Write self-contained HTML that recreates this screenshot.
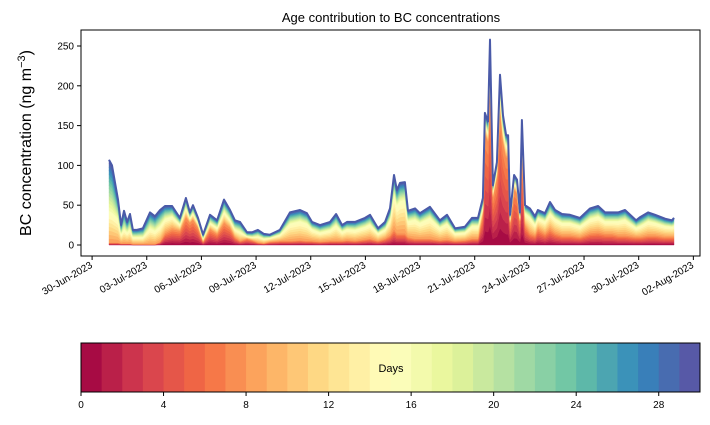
<!DOCTYPE html>
<html><head><meta charset="utf-8"><style>
body{margin:0;background:#fff}
svg{display:block;font-family:"Liberation Sans",sans-serif}
</style></head><body>
<svg id="chart" width="710" height="425" viewBox="0 0 710 425">
<text x="391" y="22" text-anchor="middle" font-size="13">Age contribution to BC concentrations</text>
<text transform="translate(31,143) rotate(-90)" text-anchor="middle" font-size="16">BC concentration (ng m<tspan dy="-6" font-size="11">−3</tspan><tspan dy="6">)</tspan></text>
<g id="layers"></g>
<g id="axes"></g>
<g id="cbar"></g>
</svg>
<script>
// days since 30-Jun-2023 00:00
const days=[0.93,1.09,1.42,1.59,1.75,1.92,2.08,2.24,2.46,2.79,3.18,3.45,3.73,4.0,4.39,4.82,5.15,5.37,5.54,5.81,6.09,6.47,6.86,7.24,7.57,7.84,8.12,8.5,8.78,9.1,9.43,9.76,10.31,10.86,11.41,11.79,12.07,12.51,13.06,13.39,13.72,13.99,14.43,14.98,15.25,15.69,16.08,16.35,16.57,16.73,16.9,17.17,17.34,17.72,17.99,18.54,19.09,19.48,19.92,20.46,20.85,21.18,21.45,21.56,21.73,21.84,22.0,22.22,22.39,22.55,22.72,22.83,22.94,23.16,23.32,23.48,23.59,23.76,24.03,24.31,24.47,24.86,25.13,25.41,25.79,26.23,26.78,27.33,27.77,28.15,28.54,28.87,29.25,29.86,30.08,30.52,30.9,31.45,31.83,31.94];
const total=[107,100,57,25,43,29,39,19,19,21,41,36,44,49,49,34,59,41,50,34,13,38,31,57,44,31,29,16,16,19,14,13,19,41,44,40,29,25,29,39,25,29,29,34,38,21,29,46,88,69,78,79,43,46,40,48,31,38,21,23,34,34,59,166,155,258,75,104,214,163,138,138,38,88,82,41,157,50,46,36,44,40,54,44,39,38,34,46,49,41,41,41,44,31,35,41,38,33,31,34];
const young=[3,3,3,2,2,2,2,1,1,1,1,1,4,15,20,18,35,28,32,22,4,20,14,28,22,10,5,8,6,3,2,4,5,5,6,5,5,4,5,5,5,6,5,7,8,5,8,12,20,15,15,15,10,8,8,8,6,7,5,6,8,8,40,140,130,200,60,85,170,130,110,110,28,70,65,30,120,25,15,12,20,14,20,15,12,12,10,15,16,14,14,12,12,10,10,12,12,10,10,10];
const mid=[40,38,30,12,18,14,18,9,9,9,20,17,20,18,16,8,12,6,8,6,4,8,8,14,10,10,12,3,4,8,6,5,8,22,24,22,15,12,14,20,12,14,14,16,18,10,12,20,45,35,40,42,20,24,20,26,16,20,10,10,16,16,8,12,12,25,8,10,20,15,15,15,5,8,8,5,20,15,20,14,14,16,20,18,16,16,14,18,20,16,16,18,20,12,14,18,16,14,13,14];
const yTicks=[0,50,100,150,200,250];
const xTickLabels=["30-Jun-2023","03-Jul-2023","06-Jul-2023","09-Jul-2023","12-Jul-2023","15-Jul-2023","18-Jul-2023","21-Jul-2023","24-Jul-2023","27-Jul-2023","30-Jul-2023","02-Aug-2023"];
const xTickDays=[0,3,6,9,12,15,18,21,24,27,30,33];
const cbTicks=[0,4,8,12,16,20,24,28];
const nBins=30;

const NS="http://www.w3.org/2000/svg";
const PX0=81,PX1=700,PY0=30,PY1=256;
const xs=d=>92.1+d*18.22;
const ys=v=>245-v*0.796;
function mk(tag,attrs,parent){const e=document.createElementNS(NS,tag);for(const k in attrs)e.setAttribute(k,attrs[k]);parent.appendChild(e);return e;}
const stops=[[158,1,66],[213,62,79],[244,109,67],[253,174,97],[254,224,139],[255,255,191],[230,245,152],[171,221,164],[102,194,165],[50,136,189],[94,79,162]];
function spectral(t){const p=t*10,i=Math.min(9,Math.floor(p)),f=p-i;const a=stops[i],b=stops[i+1];return`rgb(${a.map((c,j)=>Math.round(c+(b[j]-c)*f)).join(",")})`;}

const L=document.getElementById('layers');
const n=days.length;
let base=new Array(n).fill(0);
for(let k=0;k<nBins;k++){
  const top=base.map((b,i)=>{
    let th;
    if(k<8) th=young[i]/8;
    else if(k<16) th=mid[i]/8;
    else th=Math.max(0,total[i]-young[i]-mid[i])/14;
    return b+th;
  });
  let d="M"+days.map((dd,i)=>xs(dd).toFixed(1)+","+ys(top[i]).toFixed(1)).join("L");
  for(let i=n-1;i>=0;i--) d+="L"+xs(days[i]).toFixed(1)+","+ys(base[i]).toFixed(1);
  d+="Z";
  const p=mk('path',{d:d,fill:spectral((k+0.5)/nBins),stroke:spectral((k+0.5)/nBins),'stroke-width':0.4},L);
  
  
  base=top;
}
const tl=mk('path',{d:"M"+days.map((dd,i)=>xs(dd).toFixed(1)+","+ys(total[i]).toFixed(1)).join("L"),fill:"none",stroke:"#4a5aa8","stroke-width":2,"stroke-linejoin":"round"},L);



const A=document.getElementById('axes');
const fr=mk('rect',{x:PX0,y:PY0,width:PX1-PX0,height:PY1-PY0,fill:"none",stroke:"#000","stroke-width":1},A);


yTicks.forEach(v=>{
  const y=ys(v);
  mk('line',{x1:PX0-4,x2:PX0,y1:y,y2:y,stroke:"#000"},A);
  const t=mk('text',{x:PX0-7,y:y+3.5,'text-anchor':'end','font-size':10},A);
  t.textContent=v;
  
  
});
xTickDays.forEach((d,i)=>{
  const x=xs(d);
  mk('line',{x1:x,x2:x,y1:PY1,y2:PY1+4,stroke:"#000"},A);
  const t=mk('text',{transform:`translate(${x+1},${PY1+11}) rotate(-30)`,'text-anchor':'end','font-size':10},A);
  t.textContent=xTickLabels[i];
  
  
});

const C=document.getElementById('cbar');
const CX0=81,CX1=700,CY0=343,CY1=392;
const cx=v=>CX0+v/nBins*(CX1-CX0);
for(let k=0;k<nBins;k++){
  const r=mk('rect',{x:cx(k),y:CY0,width:(CX1-CX0)/nBins+0.5,height:CY1-CY0,fill:spectral((k+0.5)/nBins)},C);
  
  
}
mk('rect',{x:CX0,y:CY0,width:CX1-CX0,height:CY1-CY0,fill:"none",stroke:"#000"},C);
const dl=mk('text',{x:391,y:372,'text-anchor':'middle','font-size':11},C);
dl.textContent="Days";


cbTicks.forEach(v=>{
  const x=cx(v);
  mk('line',{x1:x,x2:x,y1:CY1,y2:CY1+4,stroke:"#000"},C);
  const t=mk('text',{x:x,y:CY1+16,'text-anchor':'middle','font-size':10},C);
  t.textContent=v;
  
  
});
</script>
</body></html>
